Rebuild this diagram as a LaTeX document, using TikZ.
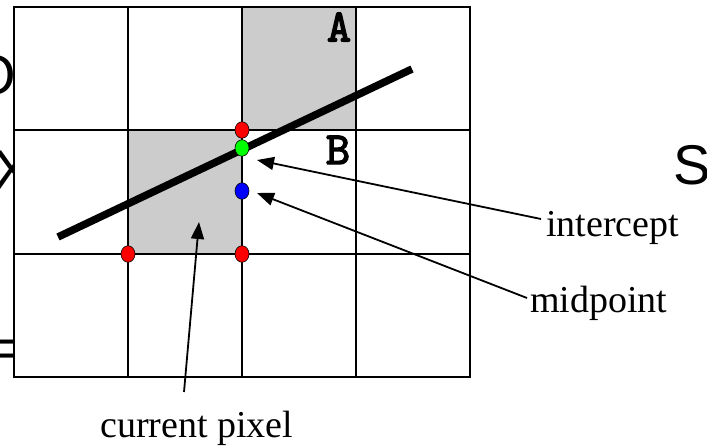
\documentclass[tikz,border=0pt]{standalone}
\usepackage{fontspec}
\setmainfont{Liberation Serif}
\newfontfamily\bgsans{Liberation Sans}
\newfontfamily\codefont{lmmono10-regular}[Extension=.otf, AutoFakeBold=3]
\usetikzlibrary{arrows.meta,shapes.geometric}
\definecolor{cellgray}{RGB}{204,204,204}
\definecolor{dotred}{RGB}{255,0,0}
\definecolor{dotgreen}{RGB}{0,255,0}
\definecolor{dotblue}{RGB}{0,0,255}
\begin{document}
\begin{tikzpicture}[x=1pt,y=-1pt,
 gridline/.style={line width=2.6pt},
 pixdot/.style={ellipse, draw=black, line width=0.6pt, minimum width=14pt, minimum height=16.5pt, inner sep=0pt},
 pointer/.style={line width=1.8pt, -{Triangle[length=17pt,width=13pt]}},
 lbl/.style={font=\fontsize{38}{40}\selectfont, inner sep=0pt, anchor=base west},
 cellletter/.style={font=\codefont\bfseries\fontsize{46}{48}\selectfont, inner sep=0pt},
 bgtext/.style={font=\bgsans\fontsize{56}{60}\selectfont, inner sep=0pt}]
\useasboundingbox (0,0) rectangle (707,446);
\clip (0,0) rectangle (707,446);
% background fragments
\node[bgtext, anchor=base east] (bgO) at (16,95) {O};
\node[bgtext, anchor=base] (bgX) at (12,190) {X};
\node[bgtext, anchor=base east] (bgEq) at (24,367) {=};
\node[bgtext, anchor=base west] (bgS) at (673,185) {S};
% grid
\fill[white] (14,7) rectangle (470,377);
\fill[cellgray] (242,7) rectangle (356,130);
\fill[cellgray] (128,130) rectangle (242,254);
\foreach \gx in {128,242,356} \draw[gridline] (\gx,7) -- (\gx,377);
\foreach \gy in {130,254} \draw[gridline] (14,\gy) -- (470,\gy);
\draw[gridline] (14,7) rectangle (470,377);
\node[cellletter] (A) at (339,27) {A};
\node[cellletter] (B) at (338,150) {B};
% the line
\coordinate (l0) at (58,237);
\coordinate (l1) at (412,69);
\draw[line width=7.5pt] (l0) -- (l1);
% dots
\node[pixdot, fill=dotred] (r1) at (242,130) {};
\node[pixdot, fill=dotgreen] (g) at (242,148) {};
\node[pixdot, fill=dotblue] (b) at (242,191) {};
\node[pixdot, fill=dotred] (r2) at (128,254) {};
\node[pixdot, fill=dotred] (r3) at (242,254) {};
% labels
\node[lbl] (intercept) at (546,237) {intercept};
\node[lbl] (midpoint) at (530,313) {midpoint};
\node[lbl] (current) at (100,437) {current pixel};
% arrows
\coordinate (ti) at (257,160);
\coordinate (tm) at (257,193);
\coordinate (tc) at (199,222);
\coordinate (si) at (541,219);
\coordinate (sm) at (527,298);
\coordinate (sc) at (184,392);
\draw[pointer] (si) -- (ti);
\draw[pointer] (sm) -- (tm);
\draw[pointer] (sc) -- (tc);
\end{tikzpicture}
\end{document}
